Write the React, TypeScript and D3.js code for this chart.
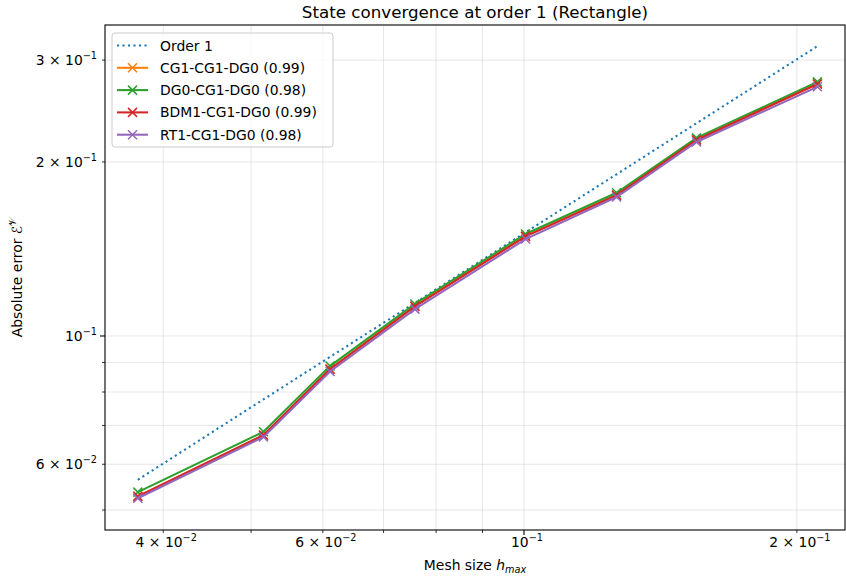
import React from "react";
import * as d3 from "d3";

// mesh sizes h_max (x) and absolute errors (y)
const meshSizes = [0.0375, 0.0516, 0.0611, 0.0758, 0.1004, 0.1265, 0.155, 0.2107];
const orderRef = [0.0564, 0.0777, 0.092, 0.1141, 0.1511, 0.1904, 0.2333, 0.3171];
const cg1 = [0.0528, 0.0673, 0.0877, 0.1126, 0.1488, 0.1753, 0.2185, 0.2728];
const dg0 = [0.0537, 0.0683, 0.0887, 0.1136, 0.1501, 0.1769, 0.2201, 0.2751];
const bdm1 = [0.0528, 0.0674, 0.0876, 0.1125, 0.1487, 0.1752, 0.2183, 0.2727];
const rt1 = [0.0524, 0.0669, 0.0868, 0.1113, 0.1471, 0.1739, 0.2165, 0.2697];

const seriesNames = ["CG1-CG1-DG0 (0.99)", "DG0-CG1-DG0 (0.98)", "BDM1-CG1-DG0 (0.99)", "RT1-CG1-DG0 (0.98)"];
const seriesValues = [cg1, dg0, bdm1, rt1];
const seriesColors = ["#ff7f0e", "#2ca02c", "#d62728", "#9467bd"];

const xMajorTicks = [0.1];
const xMinorTicks = [0.04, 0.05, 0.06, 0.07, 0.08, 0.09, 0.2];
const xTickLabels = [
  { v: 0.04, m: "4", e: "−2" },
  { v: 0.06, m: "6", e: "−2" },
  { v: 0.1, m: "", e: "−1" },
  { v: 0.2, m: "2", e: "−1" },
];
const yMajorTicks = [0.1];
const yMinorTicks = [0.05, 0.06, 0.07, 0.08, 0.09, 0.2, 0.3];
const yTickLabels = [
  { v: 0.06, m: "6", e: "−2" },
  { v: 0.1, m: "", e: "−1" },
  { v: 0.2, m: "2", e: "−1" },
  { v: 0.3, m: "3", e: "−1" },
];

const W = 846;
const H = 581;
const left = 105;
const right = 845;
const top = 25;
const bottom = 530;
const font = "'DejaVu Sans', sans-serif";
const fs = 13.9;

const x = d3.scaleLog().domain([0.0345, 0.226]).range([left, right]);
const y = d3.scaleLog().domain([0.04618, 0.345]).range([bottom, top]);

const line = d3
  .line<number>()
  .x((_, i) => x(meshSizes[i]))
  .y((d) => y(d));

const cross = "M-4.5,-4.5L4.5,4.5M-4.5,4.5L4.5,-4.5";

function TickText(props: { m: string; e: string; x: number; y: number; anchor: string }) {
  return (
    <text x={props.x} y={props.y} textAnchor={props.anchor} fontSize={fs} fill="#000">
      {props.m ? `${props.m} × 10` : "10"}
      <tspan dy={-6} fontSize={9.7}>
        {props.e}
      </tspan>
    </text>
  );
}

export default function App() {
  const allX = [...xMajorTicks, ...xMinorTicks];
  const allY = [...yMajorTicks, ...yMinorTicks];

  const legX = 112;
  const legY = 33;
  const rowH = 22.3;

  return (
    <svg
      width={W}
      height={H}
      style={{ position: "absolute", left: 0, top: 0, background: "#fff" }}
      fontFamily={font}
    >
      {/* grid */}
      {allX.map((t) => (
        <line key={"gx" + t} x1={x(t)} x2={x(t)} y1={top} y2={bottom} stroke="#b0b0b0" strokeOpacity={0.3} strokeWidth={1} />
      ))}
      {allY.map((t) => (
        <line key={"gy" + t} x1={left} x2={right} y1={y(t)} y2={y(t)} stroke="#b0b0b0" strokeOpacity={0.3} strokeWidth={1} />
      ))}

      {/* order 1 reference */}
      <path d={line(orderRef) || ""} fill="none" stroke="#1f77b4" strokeWidth={2.08} strokeDasharray="2.1,3.4" />

      {/* series */}
      {seriesValues.map((vals, k) => (
        <g key={seriesNames[k]}>
          <path d={line(vals) || ""} fill="none" stroke={seriesColors[k]} strokeWidth={2.08} />
          {vals.map((v, i) => (
            <path
              key={i}
              d={cross}
              transform={`translate(${x(meshSizes[i])},${y(v)})`}
              stroke={seriesColors[k]}
              strokeWidth={1.5}
              fill="none"
            />
          ))}
        </g>
      ))}

      {/* frame */}
      <rect x={left} y={top} width={right - left} height={bottom - top} fill="none" stroke="#000" strokeWidth={1.1} />

      {/* x ticks */}
      {xMajorTicks.map((t) => (
        <line key={"xt" + t} x1={x(t)} x2={x(t)} y1={bottom} y2={bottom + 5} stroke="#000" strokeWidth={1.1} />
      ))}
      {xMinorTicks.map((t) => (
        <line key={"xm" + t} x1={x(t)} x2={x(t)} y1={bottom} y2={bottom + 3} stroke="#000" strokeWidth={0.8} />
      ))}
      {xTickLabels.map((d) => (
        <TickText key={"xl" + d.v} m={d.m} e={d.e} x={x(d.v) + 3} y={bottom + 17} anchor="middle" />
      ))}

      {/* y ticks */}
      {yMajorTicks.map((t) => (
        <line key={"yt" + t} x1={left - 5} x2={left} y1={y(t)} y2={y(t)} stroke="#000" strokeWidth={1.1} />
      ))}
      {yMinorTicks.map((t) => (
        <line key={"ym" + t} x1={left - 3} x2={left} y1={y(t)} y2={y(t)} stroke="#000" strokeWidth={0.8} />
      ))}
      {yTickLabels.map((d) => (
        <TickText key={"yl" + d.v} m={d.m} e={d.e} x={left - 8} y={y(d.v) + 5} anchor="end" />
      ))}

      {/* title and axis labels */}
      <text x={(left + right) / 2} y={18} textAnchor="middle" fontSize={16.7}>
        State convergence at order 1 (Rectangle)
      </text>
      <text x={(left + right) / 2} y={570} textAnchor="middle" fontSize={fs}>
        Mesh size <tspan fontStyle="italic">h</tspan>
        <tspan fontStyle="italic" fontSize={9.7} dy={3}>
          max
        </tspan>
      </text>
      <text transform={`translate(22,${(top + bottom) / 2}) rotate(-90)`} textAnchor="middle" fontSize={fs}>
        Absolute error ℰ
        <tspan fontSize={9.7} dy={-6}>
          𝒱
        </tspan>
      </text>

      {/* legend */}
      <rect x={legX} y={legY} width={221} height={114} rx={3} fill="#fff" fillOpacity={0.8} stroke="#ccc" strokeWidth={1} />
      <line x1={legX + 5} x2={legX + 36} y1={legY + 12.5} y2={legY + 12.5} stroke="#1f77b4" strokeWidth={2.08} strokeDasharray="2.1,3.4" />
      <text x={legX + 48} y={legY + 12.5 + 5} fontSize={fs}>
        Order 1
      </text>
      {seriesNames.map((name, k) => {
        const cy = legY + 12.5 + (k + 1) * rowH;
        return (
          <g key={"lg" + name}>
            <line x1={legX + 5} x2={legX + 36} y1={cy} y2={cy} stroke={seriesColors[k]} strokeWidth={2.08} />
            <path d={cross} transform={`translate(${legX + 20.5},${cy})`} stroke={seriesColors[k]} strokeWidth={1.5} fill="none" />
            <text x={legX + 48} y={cy + 5} fontSize={fs}>
              {name}
            </text>
          </g>
        );
      })}
    </svg>
  );
}
